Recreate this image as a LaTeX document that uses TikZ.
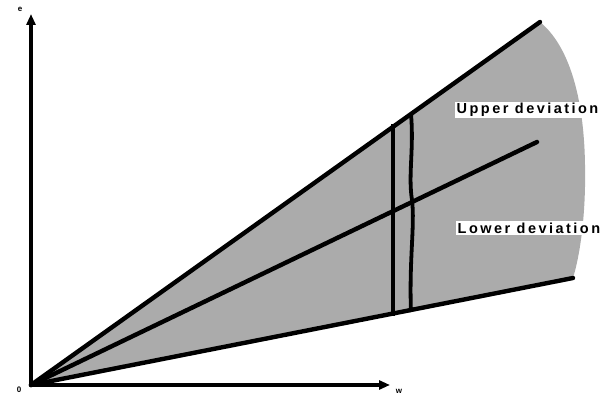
\documentclass[tikz,border=0pt]{standalone}
\usepackage{fontspec}
\setsansfont{Liberation Sans}
\newfontfamily\dvfont[LetterSpace=17]{Liberation Sans}
\usetikzlibrary{arrows.meta}

\tikzset{
  dvaxis/.style={line width=3.2pt, -{Triangle[length=11pt,width=9pt]}},
  dvline/.style={line width=4.4pt, line cap=round},
  dvbar/.style={line width=3.8pt},
  dvlabel/.style={fill=white, inner sep=1.5pt, font=\dvfont\bfseries\fontsize{14.5}{15}\selectfont},
  dvsmall/.style={inner sep=0pt, font=\sffamily\bfseries\fontsize{8}{8}\selectfont}
}

\begin{document}
\begin{tikzpicture}[x=1pt, y=-1pt]
\useasboundingbox (0,0) rectangle (605,406);

\coordinate (o) at (31,385);
\coordinate (ytip) at (31,14);
\coordinate (xtip) at (390,385);

\coordinate (up) at (540,22);
\coordinate (mid) at (537,142);
\coordinate (low) at (573,278);

% shaded band
\fill[black!33] (o) -- (up)
  .. controls (568,45) and (584,95) .. (585,165)
  .. controls (586,215) and (580,255) .. (low) -- cycle;

\draw[dvaxis] (o) -- (ytip);
\draw[dvaxis] (o) -- (xtip);

\draw[dvline] (o) -- (up);
\draw[dvline] (o) -- (mid);
\draw[dvline] (o) -- (low);

% deviation bars
\coordinate (b1t) at (393,124);
\coordinate (b1b) at (393,316);
\coordinate (b2t) at (411,114);
\coordinate (b2b) at (411,312);
\draw[dvbar] (b1t) -- (b1b);
\draw[dvbar] (b2t) .. controls (414,150) and (408,175) .. (412,200)
  .. controls (415,225) and (409,260) .. (b2b);

\node[dvlabel, anchor=west] (upper) at (455,110) {Upper deviation};
\node[dvlabel, anchor=west] (lower) at (456,228) {Lower deviation};

\node[dvsmall] (olab) at (19,390) {0};
\node[dvsmall] (elab) at (20,9) {e};
\node[dvsmall] (wlab) at (399,391) {w};
\end{tikzpicture}
\end{document}
